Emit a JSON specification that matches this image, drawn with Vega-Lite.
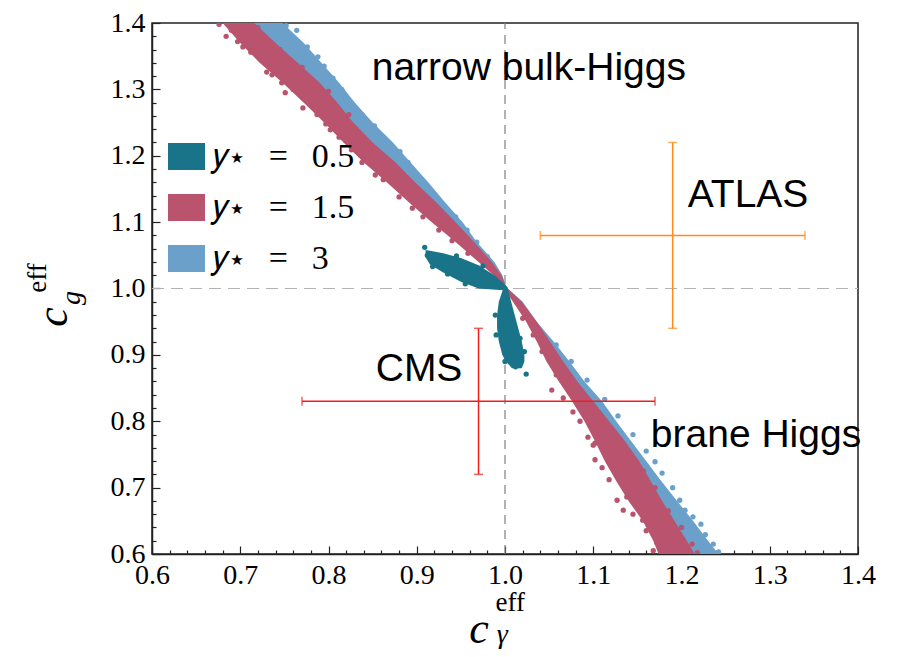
{
  "$schema": "https://vega.github.io/schema/vega-lite/v6.json",
  "width": 706,
  "height": 531,
  "autosize": {"type": "none"},
  "padding": {"left": 152, "top": 23, "right": 44, "bottom": 103},
  "background": "white",
  "config": {
    "view": {"stroke": "#222222", "strokeWidth": 1.5},
    "axis": {"grid": false},
    "legend": {
      "orient": "none",
      "legendX": 16,
      "legendY": 115,
      "symbolType": "M-1,-0.73L1,-0.73L1,0.73L-1,0.73Z",
      "symbolSize": 1369,
      "symbolStrokeWidth": 0,
      "symbolOpacity": 1,
      "labelFont": "Liberation Serif",
      "labelFontSize": 34,
      "labelColor": "#000000",
      "labelOffset": 8,
      "rowPadding": 15,
      "padding": 0,
      "labelLimit": 400
    }
  },
  "datasets": {
    "vref": [{"x": 1.0, "y": 0.6, "yh": 1.4}],
    "href": [{"x": 0.6, "xr": 1.4, "y": 1.0}],
    "band": [
      {"s": "3", "seg": "3u", "y": 1.40, "x": 0.705, "xr": 0.748},
      {"s": "3", "seg": "3u", "y": 1.37, "x": 0.725, "xr": 0.772},
      {"s": "3", "seg": "3u", "y": 1.34, "x": 0.748, "xr": 0.792},
      {"s": "3", "seg": "3u", "y": 1.31, "x": 0.772, "xr": 0.812},
      {"s": "3", "seg": "3u", "y": 1.28, "x": 0.795, "xr": 0.830},
      {"s": "3", "seg": "3u", "y": 1.25, "x": 0.815, "xr": 0.850},
      {"s": "3", "seg": "3u", "y": 1.22, "x": 0.838, "xr": 0.873},
      {"s": "3", "seg": "3u", "y": 1.19, "x": 0.860, "xr": 0.893},
      {"s": "3", "seg": "3u", "y": 1.16, "x": 0.885, "xr": 0.913},
      {"s": "3", "seg": "3u", "y": 1.13, "x": 0.908, "xr": 0.932},
      {"s": "3", "seg": "3u", "y": 1.10, "x": 0.932, "xr": 0.952},
      {"s": "3", "seg": "3u", "y": 1.07, "x": 0.955, "xr": 0.968},
      {"s": "3", "seg": "3u", "y": 1.04, "x": 0.978, "xr": 0.988},
      {"s": "3", "seg": "3u", "y": 1.02, "x": 0.991, "xr": 0.997},
      {"s": "3", "seg": "3u", "y": 1.00, "x": 0.999, "xr": 1.002},
      {"s": "3", "seg": "3l", "y": 1.00, "x": 0.999, "xr": 1.003},
      {"s": "3", "seg": "3l", "y": 0.98, "x": 1.012, "xr": 1.020},
      {"s": "3", "seg": "3l", "y": 0.95, "x": 1.028, "xr": 1.036},
      {"s": "3", "seg": "3l", "y": 0.92, "x": 1.043, "xr": 1.055},
      {"s": "3", "seg": "3l", "y": 0.89, "x": 1.057, "xr": 1.073},
      {"s": "3", "seg": "3l", "y": 0.86, "x": 1.071, "xr": 1.090},
      {"s": "3", "seg": "3l", "y": 0.83, "x": 1.088, "xr": 1.110},
      {"s": "3", "seg": "3l", "y": 0.80, "x": 1.104, "xr": 1.126},
      {"s": "3", "seg": "3l", "y": 0.77, "x": 1.119, "xr": 1.143},
      {"s": "3", "seg": "3l", "y": 0.74, "x": 1.133, "xr": 1.160},
      {"s": "3", "seg": "3l", "y": 0.71, "x": 1.145, "xr": 1.177},
      {"s": "3", "seg": "3l", "y": 0.68, "x": 1.160, "xr": 1.195},
      {"s": "3", "seg": "3l", "y": 0.65, "x": 1.175, "xr": 1.213},
      {"s": "3", "seg": "3l", "y": 0.62, "x": 1.190, "xr": 1.230},
      {"s": "3", "seg": "3l", "y": 0.60, "x": 1.198, "xr": 1.242},
      {"s": "1.5", "seg": "15u", "y": 1.40, "x": 0.680, "xr": 0.716},
      {"s": "1.5", "seg": "15u", "y": 1.37, "x": 0.700, "xr": 0.740},
      {"s": "1.5", "seg": "15u", "y": 1.34, "x": 0.722, "xr": 0.765},
      {"s": "1.5", "seg": "15u", "y": 1.31, "x": 0.748, "xr": 0.790},
      {"s": "1.5", "seg": "15u", "y": 1.28, "x": 0.772, "xr": 0.810},
      {"s": "1.5", "seg": "15u", "y": 1.25, "x": 0.795, "xr": 0.828},
      {"s": "1.5", "seg": "15u", "y": 1.22, "x": 0.817, "xr": 0.850},
      {"s": "1.5", "seg": "15u", "y": 1.19, "x": 0.840, "xr": 0.876},
      {"s": "1.5", "seg": "15u", "y": 1.16, "x": 0.866, "xr": 0.898},
      {"s": "1.5", "seg": "15u", "y": 1.13, "x": 0.891, "xr": 0.922},
      {"s": "1.5", "seg": "15u", "y": 1.10, "x": 0.917, "xr": 0.944},
      {"s": "1.5", "seg": "15u", "y": 1.07, "x": 0.944, "xr": 0.965},
      {"s": "1.5", "seg": "15u", "y": 1.04, "x": 0.970, "xr": 0.985},
      {"s": "1.5", "seg": "15u", "y": 1.02, "x": 0.987, "xr": 0.996},
      {"s": "1.5", "seg": "15u", "y": 1.00, "x": 0.999, "xr": 1.002},
      {"s": "1.5", "seg": "15l", "y": 1.00, "x": 0.999, "xr": 1.003},
      {"s": "1.5", "seg": "15l", "y": 0.98, "x": 1.009, "xr": 1.019},
      {"s": "1.5", "seg": "15l", "y": 0.95, "x": 1.024, "xr": 1.036},
      {"s": "1.5", "seg": "15l", "y": 0.92, "x": 1.036, "xr": 1.051},
      {"s": "1.5", "seg": "15l", "y": 0.89, "x": 1.047, "xr": 1.066},
      {"s": "1.5", "seg": "15l", "y": 0.86, "x": 1.061, "xr": 1.082},
      {"s": "1.5", "seg": "15l", "y": 0.83, "x": 1.076, "xr": 1.100},
      {"s": "1.5", "seg": "15l", "y": 0.80, "x": 1.090, "xr": 1.118},
      {"s": "1.5", "seg": "15l", "y": 0.77, "x": 1.102, "xr": 1.136},
      {"s": "1.5", "seg": "15l", "y": 0.74, "x": 1.113, "xr": 1.152},
      {"s": "1.5", "seg": "15l", "y": 0.71, "x": 1.126, "xr": 1.165},
      {"s": "1.5", "seg": "15l", "y": 0.68, "x": 1.140, "xr": 1.178},
      {"s": "1.5", "seg": "15l", "y": 0.65, "x": 1.156, "xr": 1.192},
      {"s": "1.5", "seg": "15l", "y": 0.62, "x": 1.168, "xr": 1.206},
      {"s": "1.5", "seg": "15l", "y": 0.60, "x": 1.174, "xr": 1.215},
      {"s": "0.5", "seg": "05l", "y": 1.000, "x": 0.998, "xr": 1.003},
      {"s": "0.5", "seg": "05l", "y": 0.98, "x": 0.993, "xr": 1.007},
      {"s": "0.5", "seg": "05l", "y": 0.96, "x": 0.991, "xr": 1.011},
      {"s": "0.5", "seg": "05l", "y": 0.94, "x": 0.991, "xr": 1.015},
      {"s": "0.5", "seg": "05l", "y": 0.92, "x": 0.993, "xr": 1.019},
      {"s": "0.5", "seg": "05l", "y": 0.90, "x": 0.997, "xr": 1.022},
      {"s": "0.5", "seg": "05l", "y": 0.89, "x": 1.001, "xr": 1.022},
      {"s": "0.5", "seg": "05l", "y": 0.88, "x": 1.008, "xr": 1.019}
    ],
    "lobe": [
      {"s": "0.5", "x": 0.910, "y": 1.047, "yh": 1.058},
      {"s": "0.5", "x": 0.915, "y": 1.036, "yh": 1.057},
      {"s": "0.5", "x": 0.930, "y": 1.024, "yh": 1.053},
      {"s": "0.5", "x": 0.950, "y": 1.010, "yh": 1.046},
      {"s": "0.5", "x": 0.970, "y": 1.000, "yh": 1.035},
      {"s": "0.5", "x": 0.990, "y": 0.998, "yh": 1.018},
      {"s": "0.5", "x": 1.003, "y": 0.997, "yh": 1.002}
    ],
    "pts": [
      {"s": "3", "x": 0.730, "y": 1.398}, {"s": "3", "x": 0.752, "y": 1.396}, {"s": "3", "x": 0.764, "y": 1.389},
      {"s": "3", "x": 0.776, "y": 1.364}, {"s": "3", "x": 0.788, "y": 1.349}, {"s": "3", "x": 0.795, "y": 1.335},
      {"s": "3", "x": 0.805, "y": 1.317}, {"s": "3", "x": 0.815, "y": 1.300}, {"s": "3", "x": 0.828, "y": 1.276},
      {"s": "3", "x": 0.838, "y": 1.262}, {"s": "3", "x": 0.852, "y": 1.245}, {"s": "3", "x": 0.862, "y": 1.228},
      {"s": "3", "x": 0.881, "y": 1.206}, {"s": "3", "x": 0.890, "y": 1.190}, {"s": "3", "x": 0.907, "y": 1.159},
      {"s": "3", "x": 0.918, "y": 1.142}, {"s": "3", "x": 0.930, "y": 1.125}, {"s": "3", "x": 0.944, "y": 1.108},
      {"s": "3", "x": 0.957, "y": 1.088}, {"s": "3", "x": 0.968, "y": 1.070}, {"s": "3", "x": 0.980, "y": 1.048},
      {"s": "3", "x": 1.058, "y": 0.915}, {"s": "3", "x": 1.075, "y": 0.890}, {"s": "3", "x": 1.093, "y": 0.862},
      {"s": "3", "x": 1.113, "y": 0.833}, {"s": "3", "x": 1.128, "y": 0.808}, {"s": "3", "x": 1.145, "y": 0.780},
      {"s": "3", "x": 1.160, "y": 0.755}, {"s": "3", "x": 1.170, "y": 0.739}, {"s": "3", "x": 1.178, "y": 0.722},
      {"s": "3", "x": 1.190, "y": 0.700}, {"s": "3", "x": 1.198, "y": 0.681}, {"s": "3", "x": 1.204, "y": 0.666},
      {"s": "3", "x": 1.213, "y": 0.656}, {"s": "3", "x": 1.222, "y": 0.645}, {"s": "3", "x": 1.227, "y": 0.629},
      {"s": "3", "x": 1.236, "y": 0.615}, {"s": "3", "x": 1.242, "y": 0.603},
      {"s": "1.5", "x": 0.676, "y": 1.398}, {"s": "1.5", "x": 0.684, "y": 1.380}, {"s": "1.5", "x": 0.690, "y": 1.389},
      {"s": "1.5", "x": 0.703, "y": 1.364}, {"s": "1.5", "x": 0.697, "y": 1.372}, {"s": "1.5", "x": 0.712, "y": 1.356},
      {"s": "1.5", "x": 0.722, "y": 1.352}, {"s": "1.5", "x": 0.734, "y": 1.337}, {"s": "1.5", "x": 0.730, "y": 1.326},
      {"s": "1.5", "x": 0.736, "y": 1.322}, {"s": "1.5", "x": 0.747, "y": 1.310}, {"s": "1.5", "x": 0.751, "y": 1.295},
      {"s": "1.5", "x": 0.760, "y": 1.300}, {"s": "1.5", "x": 0.771, "y": 1.272}, {"s": "1.5", "x": 0.778, "y": 1.283},
      {"s": "1.5", "x": 0.787, "y": 1.262}, {"s": "1.5", "x": 0.802, "y": 1.239}, {"s": "1.5", "x": 0.797, "y": 1.248},
      {"s": "1.5", "x": 0.812, "y": 1.228}, {"s": "1.5", "x": 0.826, "y": 1.209}, {"s": "1.5", "x": 0.838, "y": 1.190},
      {"s": "1.5", "x": 0.853, "y": 1.171}, {"s": "1.5", "x": 0.862, "y": 1.164}, {"s": "1.5", "x": 0.880, "y": 1.138},
      {"s": "1.5", "x": 0.895, "y": 1.121}, {"s": "1.5", "x": 0.907, "y": 1.108}, {"s": "1.5", "x": 0.925, "y": 1.088},
      {"s": "1.5", "x": 0.940, "y": 1.072}, {"s": "1.5", "x": 0.958, "y": 1.053},
      {"s": "1.5", "x": 0.720, "y": 1.393}, {"s": "1.5", "x": 0.745, "y": 1.360}, {"s": "1.5", "x": 0.770, "y": 1.333},
      {"s": "1.5", "x": 0.800, "y": 1.297}, {"s": "1.5", "x": 0.823, "y": 1.262},
      {"s": "1.5", "x": 1.020, "y": 0.955}, {"s": "1.5", "x": 1.032, "y": 0.930}, {"s": "1.5", "x": 1.042, "y": 0.905},
      {"s": "1.5", "x": 1.053, "y": 0.847}, {"s": "1.5", "x": 1.066, "y": 0.835}, {"s": "1.5", "x": 1.058, "y": 0.870},
      {"s": "1.5", "x": 1.077, "y": 0.814}, {"s": "1.5", "x": 1.085, "y": 0.800}, {"s": "1.5", "x": 1.094, "y": 0.776},
      {"s": "1.5", "x": 1.100, "y": 0.764}, {"s": "1.5", "x": 1.102, "y": 0.742}, {"s": "1.5", "x": 1.102, "y": 0.767},
      {"s": "1.5", "x": 1.110, "y": 0.730}, {"s": "1.5", "x": 1.118, "y": 0.712}, {"s": "1.5", "x": 1.127, "y": 0.681},
      {"s": "1.5", "x": 1.134, "y": 0.666}, {"s": "1.5", "x": 1.138, "y": 0.686}, {"s": "1.5", "x": 1.145, "y": 0.660},
      {"s": "1.5", "x": 1.156, "y": 0.651}, {"s": "1.5", "x": 1.160, "y": 0.635}, {"s": "1.5", "x": 1.172, "y": 0.617},
      {"s": "1.5", "x": 1.168, "y": 0.605},
      {"s": "1.5", "x": 1.120, "y": 0.790}, {"s": "1.5", "x": 1.140, "y": 0.755}, {"s": "1.5", "x": 1.157, "y": 0.725},
      {"s": "1.5", "x": 1.170, "y": 0.700}, {"s": "1.5", "x": 1.185, "y": 0.665}, {"s": "1.5", "x": 1.200, "y": 0.640},
      {"s": "1.5", "x": 1.212, "y": 0.615}, {"s": "1.5", "x": 1.218, "y": 0.602},
      {"s": "0.5", "x": 0.909, "y": 1.062}, {"s": "0.5", "x": 0.912, "y": 1.050}, {"s": "0.5", "x": 0.918, "y": 1.033},
      {"s": "0.5", "x": 0.935, "y": 1.022}, {"s": "0.5", "x": 0.955, "y": 1.007}, {"s": "0.5", "x": 0.945, "y": 1.049},
      {"s": "0.5", "x": 0.975, "y": 1.034}, {"s": "0.5", "x": 0.989, "y": 0.960}, {"s": "0.5", "x": 0.990, "y": 0.930},
      {"s": "0.5", "x": 1.000, "y": 0.890}, {"s": "0.5", "x": 1.022, "y": 0.905}, {"s": "0.5", "x": 1.017, "y": 0.925},
      {"s": "0.5", "x": 1.024, "y": 0.871}, {"s": "0.5", "x": 1.012, "y": 0.882}
    ],
    "errh": [
      {"exp": "CMS", "x": 0.77, "xr": 1.17, "y": 0.83},
      {"exp": "ATLAS", "x": 1.04, "xr": 1.34, "y": 1.08}
    ],
    "errv": [
      {"exp": "CMS", "x": 0.97, "y": 0.72, "yh": 0.94},
      {"exp": "ATLAS", "x": 1.19, "y": 0.94, "yh": 1.22}
    ],
    "notes": [
      {"t": "narrow bulk-Higgs", "x": 1.027, "y": 1.332},
      {"t": "ATLAS", "x": 1.2754, "y": 1.141},
      {"t": "CMS", "x": 0.9026, "y": 0.8787},
      {"t": "brane Higgs", "x": 1.2844, "y": 0.7793}
    ],
    "titles": [
      {"p": "xc", "t": "c", "x": 0.9705, "y": 0.4855},
      {"p": "xe", "t": "eff", "x": 1.006, "y": 0.526},
      {"p": "xg", "t": "γ", "x": 0.997, "y": 0.4779},
      {"p": "yc", "t": "c", "x": 0.489, "y": 0.957},
      {"p": "ye", "t": "eff", "x": 0.4708, "y": 1.0158},
      {"p": "yg", "t": "g", "x": 0.509, "y": 0.9857}
    ]
  },
  "encoding": {
    "x": {
      "field": "x", "type": "quantitative",
      "scale": {"domain": [0.6, 1.4], "nice": false, "zero": false},
      "axis": {
        "values": [0.6,0.62,0.64,0.66,0.68,0.7,0.72,0.74,0.76,0.78,0.8,0.82,0.84,0.86,0.88,0.9,0.92,0.94,0.96,0.98,1,1.02,1.04,1.06,1.08,1.1,1.12,1.14,1.16,1.18,1.2,1.22,1.24,1.26,1.28,1.3,1.32,1.34,1.36,1.38,1.4],
        "title": null, "grid": false,
        "labelExpr": "abs(datum.value*10 - round(datum.value*10)) < 0.001 ? format(datum.value, '.1f') : ''",
        "tickSize": {"condition": {"test": "abs(datum.value*10 - round(datum.value*10)) < 0.001", "value": -8}, "value": -4},
        "tickColor": "#222222", "tickWidth": 1.2, "domainColor": "#222222", "domainWidth": 1.5,
        "labelFont": "Liberation Serif", "labelFontSize": 28, "labelColor": "#000000",
        "labelPadding": 15, "labelFlush": false, "labelOverlap": false, "labelBound": false
      }
    },
    "y": {
      "field": "y", "type": "quantitative",
      "scale": {"domain": [0.6, 1.4], "nice": false, "zero": false},
      "axis": {
        "values": [0.6,0.62,0.64,0.66,0.68,0.7,0.72,0.74,0.76,0.78,0.8,0.82,0.84,0.86,0.88,0.9,0.92,0.94,0.96,0.98,1,1.02,1.04,1.06,1.08,1.1,1.12,1.14,1.16,1.18,1.2,1.22,1.24,1.26,1.28,1.3,1.32,1.34,1.36,1.38,1.4],
        "title": null, "grid": false,
        "labelExpr": "abs(datum.value*10 - round(datum.value*10)) < 0.001 ? format(datum.value, '.1f') : ''",
        "tickSize": {"condition": {"test": "abs(datum.value*10 - round(datum.value*10)) < 0.001", "value": -8}, "value": -4},
        "tickColor": "#222222", "tickWidth": 1.2, "domainColor": "#222222", "domainWidth": 1.5,
        "labelFont": "Liberation Serif", "labelFontSize": 28, "labelColor": "#000000",
        "labelPadding": 15, "labelFlush": false, "labelOverlap": false, "labelBound": false
      }
    }
  },
  "layer": [
    {
      "data": {"name": "vref"},
      "mark": {"type": "rule", "color": "#808080", "strokeWidth": 1.2, "strokeDash": [9, 6]},
      "encoding": {"y2": {"field": "yh"}}
    },
    {
      "data": {"name": "href"},
      "mark": {"type": "rule", "color": "#b3b3b3", "strokeWidth": 1.2, "strokeDash": [12, 7]},
      "encoding": {"x2": {"field": "xr"}}
    },
    {
      "data": {"name": "band"},
      "transform": [{"filter": "datum.s == '3'"}],
      "mark": {"type": "area", "orient": "horizontal", "clip": true},
      "encoding": {
        "x2": {"field": "xr"},
        "detail": {"field": "seg"},
        "color": {"field": "s", "type": "nominal", "scale": {"domain": ["0.5", "1.5", "3"], "range": ["#1a7489", "#b9536e", "#6aa0ca"]}, "legend": {"title": null, "labelExpr": "'𝑦⋆\u2002\u2009=\u2002\u2009' + datum.label"}}
      }
    },
    {
      "data": {"name": "pts"},
      "transform": [{"filter": "datum.s == '3'"}],
      "mark": {"type": "circle", "size": 28, "opacity": 1, "clip": true},
      "encoding": {
        "color": {"field": "s", "type": "nominal", "scale": {"domain": ["0.5", "1.5", "3"], "range": ["#1a7489", "#b9536e", "#6aa0ca"]}, "legend": {"title": null, "labelExpr": "'𝑦⋆\u2002\u2009=\u2002\u2009' + datum.label"}}
      }
    },
    {
      "data": {"name": "band"},
      "transform": [{"filter": "datum.s == '1.5'"}],
      "mark": {"type": "area", "orient": "horizontal", "clip": true},
      "encoding": {
        "x2": {"field": "xr"},
        "detail": {"field": "seg"},
        "color": {"field": "s", "type": "nominal", "scale": {"domain": ["0.5", "1.5", "3"], "range": ["#1a7489", "#b9536e", "#6aa0ca"]}, "legend": {"title": null, "labelExpr": "'𝑦⋆\u2002\u2009=\u2002\u2009' + datum.label"}}
      }
    },
    {
      "data": {"name": "pts"},
      "transform": [{"filter": "datum.s == '1.5'"}],
      "mark": {"type": "circle", "size": 28, "opacity": 1, "clip": true},
      "encoding": {
        "color": {"field": "s", "type": "nominal", "scale": {"domain": ["0.5", "1.5", "3"], "range": ["#1a7489", "#b9536e", "#6aa0ca"]}, "legend": {"title": null, "labelExpr": "'𝑦⋆\u2002\u2009=\u2002\u2009' + datum.label"}}
      }
    },
    {
      "data": {"name": "band"},
      "transform": [{"filter": "datum.s == '0.5'"}],
      "mark": {"type": "area", "orient": "horizontal", "clip": true},
      "encoding": {
        "x2": {"field": "xr"},
        "detail": {"field": "seg"},
        "color": {"field": "s", "type": "nominal", "scale": {"domain": ["0.5", "1.5", "3"], "range": ["#1a7489", "#b9536e", "#6aa0ca"]}, "legend": {"title": null, "labelExpr": "'𝑦⋆\u2002\u2009=\u2002\u2009' + datum.label"}}
      }
    },
    {
      "data": {"name": "lobe"},
      "mark": {"type": "area", "orient": "vertical", "clip": true},
      "encoding": {
        "y2": {"field": "yh"},
        "color": {"field": "s", "type": "nominal", "scale": {"domain": ["0.5", "1.5", "3"], "range": ["#1a7489", "#b9536e", "#6aa0ca"]}, "legend": {"title": null, "labelExpr": "'𝑦⋆\u2002\u2009=\u2002\u2009' + datum.label"}}
      }
    },
    {
      "data": {"name": "pts"},
      "transform": [{"filter": "datum.s == '0.5'"}],
      "mark": {"type": "circle", "size": 28, "opacity": 1, "clip": true},
      "encoding": {
        "color": {"field": "s", "type": "nominal", "scale": {"domain": ["0.5", "1.5", "3"], "range": ["#1a7489", "#b9536e", "#6aa0ca"]}, "legend": {"title": null, "labelExpr": "'𝑦⋆\u2002\u2009=\u2002\u2009' + datum.label"}}
      }
    },
    {
      "data": {"name": "errh"},
      "mark": {"type": "rule", "strokeWidth": 1.5},
      "encoding": {
        "x2": {"field": "xr"},
        "color": {"condition": {"test": "datum.exp == 'CMS'", "value": "#f01e1e"}, "value": "#ff8c1a"}
      }
    },
    {
      "data": {"name": "errv"},
      "mark": {"type": "rule", "strokeWidth": 1.5},
      "encoding": {
        "y2": {"field": "yh"},
        "color": {"condition": {"test": "datum.exp == 'CMS'", "value": "#f01e1e"}, "value": "#ff8c1a"}
      }
    },
    {
      "data": {"name": "errh"},
      "transform": [{"fold": ["x", "xr"], "as": ["k", "x"]}],
      "mark": {"type": "tick", "orient": "vertical", "size": 9, "thickness": 1.5},
      "encoding": {
        "color": {"condition": {"test": "datum.exp == 'CMS'", "value": "#f01e1e"}, "value": "#ff8c1a"}
      }
    },
    {
      "data": {"name": "errv"},
      "transform": [{"fold": ["y", "yh"], "as": ["k", "y"]}],
      "mark": {"type": "tick", "orient": "horizontal", "size": 9, "thickness": 1.5},
      "encoding": {
        "color": {"condition": {"test": "datum.exp == 'CMS'", "value": "#f01e1e"}, "value": "#ff8c1a"}
      }
    },
    {
      "data": {"name": "notes"},
      "mark": {"type": "text", "font": "Liberation Sans", "fontSize": 39, "align": "center", "baseline": "middle", "color": "#000000"},
      "encoding": {"text": {"field": "t"}}
    },
    {
      "data": {"name": "titles"},
      "transform": [{"filter": "datum.p == 'xc' || datum.p == 'yc'"}],
      "mark": {"type": "text", "font": "Liberation Serif", "fontStyle": "italic", "fontSize": 44, "align": "center", "baseline": "middle", "color": "#000000"},
      "encoding": {
        "text": {"field": "t"},
        "angle": {"condition": {"test": "datum.p == 'yc'", "value": 270}, "value": 0}
      }
    },
    {
      "data": {"name": "titles"},
      "transform": [{"filter": "datum.p == 'xe' || datum.p == 'ye'"}],
      "mark": {"type": "text", "font": "Liberation Serif", "fontSize": 27, "align": "center", "baseline": "middle", "color": "#000000"},
      "encoding": {
        "text": {"field": "t"},
        "angle": {"condition": {"test": "datum.p == 'ye'", "value": 270}, "value": 0}
      }
    },
    {
      "data": {"name": "titles"},
      "transform": [{"filter": "datum.p == 'xg' || datum.p == 'yg'"}],
      "mark": {"type": "text", "font": "Liberation Serif", "fontStyle": "italic", "fontSize": 28, "align": "center", "baseline": "middle", "color": "#000000"},
      "encoding": {
        "text": {"field": "t"},
        "angle": {"condition": {"test": "datum.p == 'yg'", "value": 270}, "value": 0}
      }
    }
  ]
}
